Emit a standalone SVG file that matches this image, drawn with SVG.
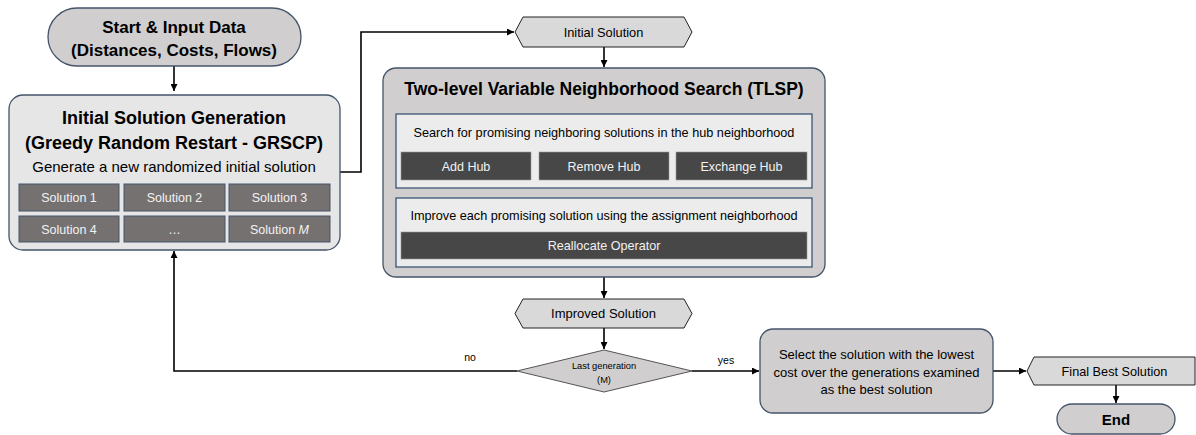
<svg xmlns="http://www.w3.org/2000/svg" width="1196" height="435" viewBox="0 0 1196 435">
<defs>
<marker id="ah" viewBox="0 0 10 10" refX="10" refY="5" markerWidth="7" markerHeight="7" markerUnits="userSpaceOnUse" orient="auto">
<path d="M0,0 L10,5 L0,10 z" fill="#000"/>
</marker>
<style>
text{font-family:"Liberation Sans",Arial,sans-serif;text-anchor:middle;}
.b{font-weight:bold;}
.term{fill:#d0cece;stroke:#44546a;stroke-width:1.3;}
.box{fill:#e7e6e6;stroke:#44546a;stroke-width:1.3;}
.tl{fill:#d0cece;stroke:#44546a;stroke-width:1.3;}
.pan{fill:#ececec;stroke:#2f4a6b;stroke-width:1.2;}
.cell{fill:#767171;stroke:#44546a;stroke-width:1;}
.btn{fill:#474747;stroke:#999;stroke-width:0.6;}
.hex{fill:#d9d9d9;stroke:#222;stroke-width:1;}
.dia{fill:#d0cece;stroke:#555;stroke-width:1;}
.wt{fill:#f2f2f2;}
.con{fill:none;stroke:#000;stroke-width:1.6;}
</style>
</defs>
<rect width="1196" height="435" fill="#fff"/>

<g id="connectors">
<path class="con" d="M174,66 V91" marker-end="url(#ah)"/>
<path class="con" d="M340,172 H361 V32 H514" marker-end="url(#ah)"/>
<path class="con" d="M604,47 V67" marker-end="url(#ah)"/>
<path class="con" d="M604,277 V298" marker-end="url(#ah)"/>
<path class="con" d="M604,328 V349" marker-end="url(#ah)"/>
<path class="con" d="M517,371 H174 V251" marker-end="url(#ah)"/>
<path class="con" d="M692,371 H759" marker-end="url(#ah)"/>
<path class="con" d="M993,371 H1026" marker-end="url(#ah)"/>
<path class="con" d="M1116,385 V403" marker-end="url(#ah)"/>
<text x="470" y="361" font-size="10.5">no</text>
<text x="726" y="364" font-size="10.5">yes</text>
</g>

<g id="start">
<rect class="term" x="48" y="8" width="253" height="58" rx="29"/>
<text class="b" x="174" y="33" font-size="17">Start &amp; Input Data</text>
<text class="b" x="174" y="56" font-size="17">(Distances, Costs, Flows)</text>
</g>

<g id="initgen">
<rect class="box" x="9" y="95" width="331" height="155" rx="14"/>
<text class="b" x="174" y="123.5" font-size="18">Initial Solution Generation</text>
<text class="b" x="174" y="148.5" font-size="18">(Greedy Random Restart - GRSCP)</text>
<text x="174" y="172" font-size="15">Generate a new randomized initial solution</text>
<rect class="cell" x="19" y="184" width="100" height="27"/>
<rect class="cell" x="124" y="184" width="101" height="27"/>
<rect class="cell" x="229" y="184" width="101" height="27"/>
<rect class="cell" x="19" y="216" width="100" height="26"/>
<rect class="cell" x="124" y="216" width="101" height="26"/>
<rect class="cell" x="229" y="216" width="101" height="26"/>
<text class="wt" x="69" y="202" font-size="12.5">Solution 1</text>
<text class="wt" x="174.5" y="202" font-size="12.5">Solution 2</text>
<text class="wt" x="279.5" y="202" font-size="12.5">Solution 3</text>
<text class="wt" x="69" y="233.5" font-size="12.5">Solution 4</text>
<text class="wt" x="174.5" y="233.5" font-size="12.5">…</text>
<text class="wt" x="279.5" y="233.5" font-size="12.5">Solution <tspan font-style="italic">M</tspan></text>
</g>

<g id="initsol">
<path class="hex" d="M515,32 L523,17 H684 L692,32 L684,47 H523 z"/>
<text x="603.5" y="36.5" font-size="12.8">Initial Solution</text>
</g>

<g id="tlsp">
<rect class="tl" x="383" y="68" width="442" height="209" rx="13"/>
<text class="b" x="604" y="95" font-size="17.5">Two-level Variable Neighborhood Search (TLSP)</text>
<rect class="pan" x="396" y="114" width="416" height="74"/>
<text x="604" y="136.5" font-size="12.7">Search for promising neighboring solutions in the hub neighborhood</text>
<rect class="btn" x="401" y="152" width="130" height="28"/>
<rect class="btn" x="539" y="152" width="130" height="28"/>
<rect class="btn" x="676" y="152" width="131" height="28"/>
<text class="wt" x="466" y="170.5" font-size="12.5">Add Hub</text>
<text class="wt" x="604" y="170.5" font-size="12.5">Remove Hub</text>
<text class="wt" x="741.5" y="170.5" font-size="12.5">Exchange Hub</text>
<rect class="pan" x="396" y="198" width="416" height="69"/>
<text x="604" y="219.5" font-size="12.7">Improve each promising solution using the assignment neighborhood</text>
<rect class="btn" x="401" y="232" width="406" height="27"/>
<text class="wt" x="604" y="250" font-size="12.6">Reallocate Operator</text>
</g>

<g id="improved">
<path class="hex" d="M515,313.5 L523,299 H684 L692,313.5 L684,328 H523 z"/>
<text x="603.5" y="318" font-size="13">Improved Solution</text>
</g>

<g id="decision">
<path class="dia" d="M517,371 L604,350 L692,371 L604,392 z"/>
<text x="604" y="368.5" font-size="9.3">Last generation</text>
<text x="604" y="382.5" font-size="9.3">(M)</text>
</g>

<g id="select">
<rect class="tl" x="760" y="329" width="233" height="84" rx="13"/>
<text x="876.5" y="358.5" font-size="13">Select the solution with the lowest</text>
<text x="876.5" y="376.5" font-size="13">cost over the generations examined</text>
<text x="876.5" y="393.5" font-size="13">as the best solution</text>
</g>

<g id="final">
<path class="hex" d="M1027,371 L1034,357 H1195 V385 H1034 z"/>
<text x="1114.5" y="375.5" font-size="12.7">Final Best Solution</text>
</g>

<g id="end">
<rect class="term" x="1057" y="404" width="118" height="30" rx="15"/>
<text class="b" x="1116" y="424.5" font-size="15">End</text>
</g>
</svg>
